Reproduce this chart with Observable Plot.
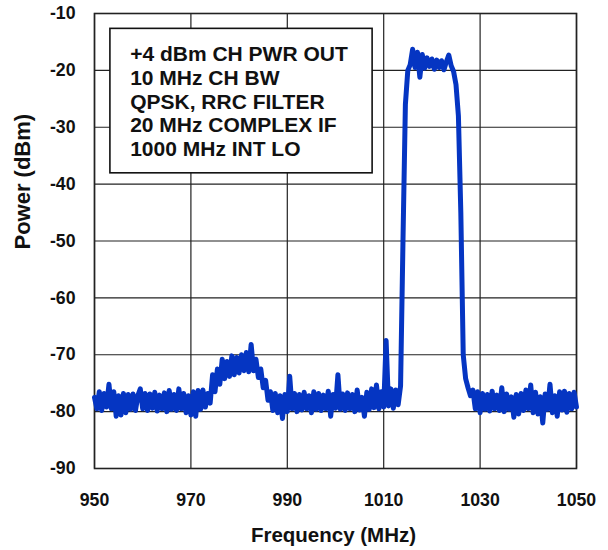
<!DOCTYPE html>
<html>
<head>
<meta charset="utf-8">
<script src="https://cdn.jsdelivr.net/npm/d3@7"></script>
<script src="https://cdn.jsdelivr.net/npm/@observablehq/plot@0.6"></script>
<style>
  html, body { margin: 0; padding: 0; background: #fff; }
  #chart svg { display: block; font-family: "Liberation Sans", Arial, sans-serif; }
</style>
</head>
<body>
<div id="chart"></div>
<script>
// Sample grid (MHz)
const freqStart = 950;
const freqStep = 0.5;

// Measured power (dBm) every 0.5 MHz from 950 to 1050 MHz
const power = [
  -77.5, -79.5, -76.5, -79.8, -76.8, -79.2, -75.2, -79.5, -76.5, -80.8,   // 950-954.5
  -77.2, -80.6, -76.8, -80.2, -77.0, -79.6, -76.9, -79.8, -77.2, -76.0,   // 955-959.5
  -79.5, -76.8, -79.8, -76.9, -79.4, -76.6, -79.9, -77.1, -79.5, -76.7,   // 960-964.5
  -80.0, -76.3, -79.6, -77.0, -79.8, -76.0, -79.5, -76.8, -80.2, -77.2,   // 965-969.5
  -80.6, -76.5, -80.8, -76.3, -79.6, -76.2, -79.2, -76.8, -78.5, -73.5,   // 970-974.5
  -76.5, -72.5, -75.2, -70.8, -74.2, -71.2, -73.8, -70.2, -73.5, -70.5,   // 975-979.5
  -73.2, -70.0, -72.8, -69.6, -73.0, -68.2, -72.8, -70.8, -74.0, -72.5,   // 980-984.5
  -75.8, -74.5, -78.0, -76.5, -79.8, -76.8, -80.2, -77.2, -81.2, -77.0,   // 985-989.5
  -80.0, -73.8, -79.5, -76.8, -80.0, -77.0, -79.7, -76.6, -79.5, -77.2,   // 990-994.5
  -80.2, -76.5, -79.6, -76.8, -79.8, -77.1, -79.5, -76.4, -80.8, -77.0,   // 995-999.5
  -79.4, -73.5, -79.6, -76.9, -79.8, -76.7, -79.5, -77.0, -80.0, -76.2,   // 1000-1004.5
  -79.7, -77.5, -80.8, -76.6, -79.6, -76.0, -79.3, -75.3, -79.5, -76.5,   // 1005-1009.5
  -79.2, -67.5, -79.0, -76.0, -79.4, -76.2, -78.8, -75.5, -50.0, -26.0,   // 1010-1014.5
  -20.0, -19.0, -16.3, -19.5, -16.8, -21.2, -17.2, -19.6, -17.8, -19.3,   // 1015-1019.5
  -18.0, -19.8, -18.2, -19.5, -18.3, -19.9, -18.5, -17.3, -19.2, -20.2,   // 1020-1024.5
  -22.5, -28.0, -45.0, -70.0, -74.2, -75.8, -77.2, -76.2, -79.5, -76.5,   // 1025-1029.5
  -80.2, -76.8, -79.6, -77.0, -79.9, -76.4, -79.5, -77.1, -79.8, -75.8,   // 1030-1034.5
  -80.0, -76.9, -79.6, -77.4, -81.0, -77.0, -80.4, -76.8, -79.8, -76.2,   // 1035-1039.5
  -79.5, -75.3, -80.2, -76.6, -80.4, -77.4, -82.0, -76.9, -79.6, -75.2,   // 1040-1044.5
  -80.2, -77.2, -80.8, -76.5, -79.7, -76.4, -80.1, -76.8, -79.5, -76.6,   // 1045-1049.5
  -79.2                                                                   // 1050
];

const xTicks = [950, 970, 990, 1010, 1030, 1050];
const yTicks = [-90, -80, -70, -60, -50, -40, -30, -20, -10];

const noteLines = [
  "+4 dBm CH PWR OUT",
  "10 MHz CH BW",
  "QPSK, RRC FILTER",
  "20 MHz COMPLEX IF",
  "1000 MHz INT LO"
];
// annotation box corners and text anchor in data units
const noteBox = [{x1: 953.3, x2: 1007.7, y1: -12.7, y2: -38.1}];
const noteAnchor = [{x: 957.4, y: -25.4}];
const yTitleAt = [{y: -51.5}];

const data = power.map((p, i) => ({f: freqStart + i * freqStep, p}));

const chart = Plot.plot({
  width: 608,
  height: 550,
  marginLeft: 94,
  marginRight: 32,
  marginTop: 13,
  marginBottom: 82,
  style: {fontFamily: '"Liberation Sans", Arial, sans-serif', background: "#fff"},
  x: {domain: [950, 1050], ticks: xTicks, tickFormat: d => String(d)},
  y: {domain: [-90, -10], ticks: yTicks, tickFormat: d => String(d)},
  marks: [
    Plot.gridX(xTicks, {stroke: "#222", strokeOpacity: 1, strokeWidth: 1.2}),
    Plot.gridY(yTicks, {stroke: "#222", strokeOpacity: 1, strokeWidth: 1.2}),
    Plot.frame({stroke: "#222", strokeWidth: 1.6}),
    Plot.rect(noteBox, {x1: "x1", x2: "x2", y1: "y1", y2: "y2", fill: "#fff", stroke: "#111", strokeWidth: 1.6}),
    Plot.text(noteAnchor, {x: "x", y: "y", text: () => noteLines.join("\n"), textAnchor: "start", lineAnchor: "middle",
      fontSize: 21, fontWeight: "bold", fill: "#111", lineHeight: 1.13}),
    Plot.line(data, {x: "f", y: "p", stroke: "#0535c2", strokeWidth: 5, strokeLinejoin: "round", strokeLinecap: "round"}),
    Plot.axisX(xTicks, {tickSize: 0, tickPadding: 25, fontSize: 17.7, fontWeight: "bold", fill: "#111", label: null, tickFormat: d => String(d)}),
    Plot.axisY(yTicks, {tickSize: 0, tickPadding: 19, fontSize: 17.7, fontWeight: "bold", fill: "#111", label: null, tickFormat: d => String(d)}),
    Plot.text(["Frequency (MHz)"], {frameAnchor: "bottom", lineAnchor: "middle", dy: 67, dx: -2, fontSize: 20.5, fontWeight: "bold", fill: "#111"}),
    Plot.text(yTitleAt, {y: "y", text: () => "Power (dBm)", frameAnchor: "left", dx: -72, rotate: -90, fontSize: 22, fontWeight: "bold", fill: "#111"})
  ]
});
document.getElementById("chart").appendChild(chart);
</script>
</body>
</html>
